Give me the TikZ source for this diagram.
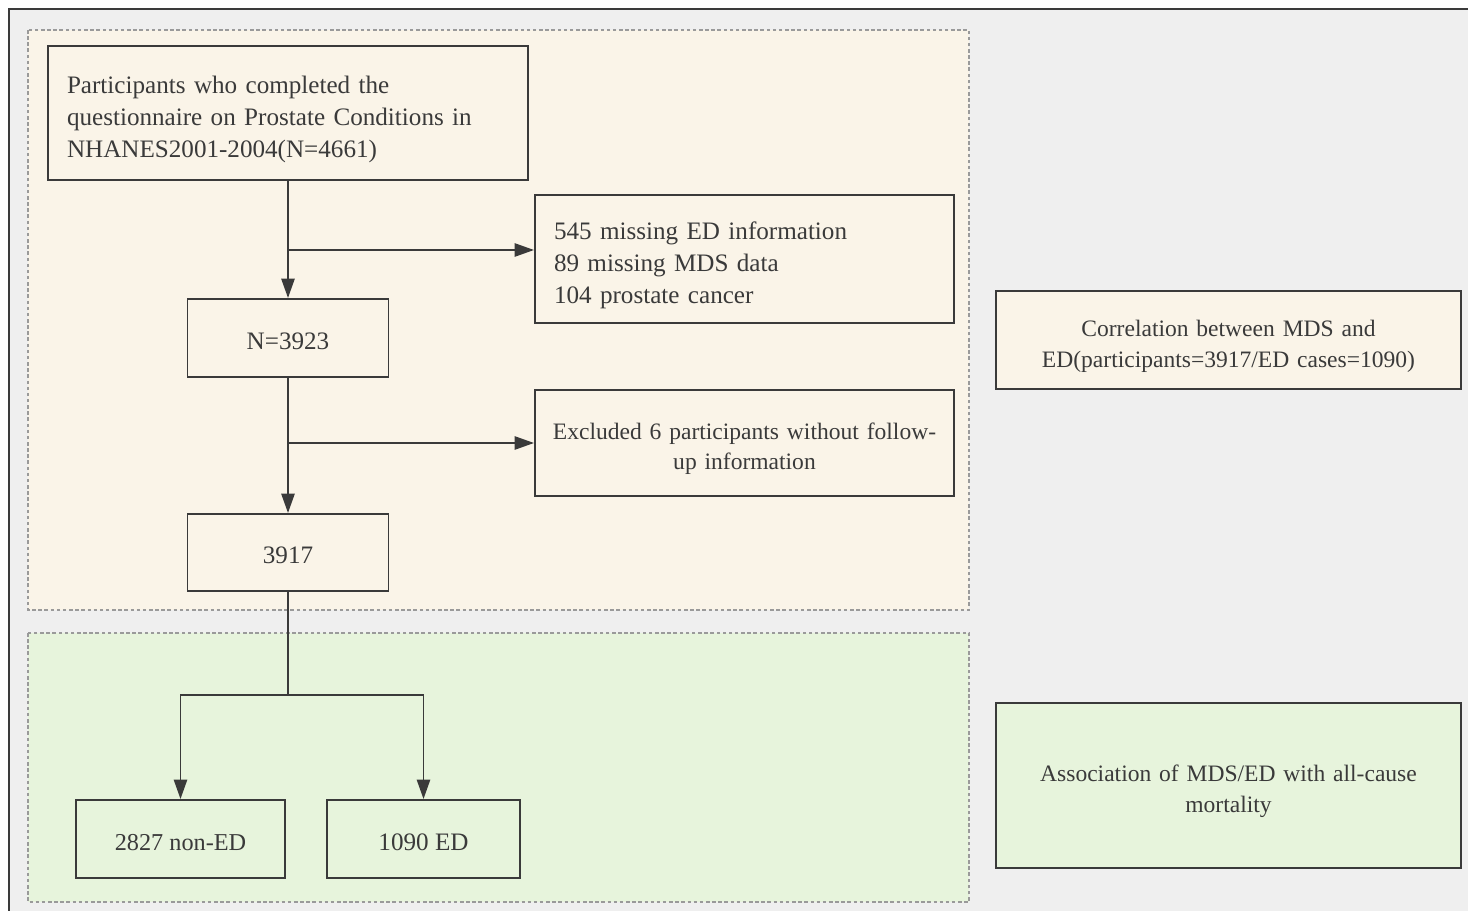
\documentclass[tikz,border=0pt]{standalone}
\usepackage{fontspec}
\setmainfont{Liberation Serif}
\usetikzlibrary{arrows.meta,positioning}
\definecolor{pagegray}{HTML}{EFEFEF}
\definecolor{cream}{HTML}{FAF4E8}
\definecolor{mint}{HTML}{E7F4DC}
\definecolor{inkgray}{HTML}{3A3A3A}
\definecolor{dashgray}{HTML}{9A9A9A}
\tikzset{
  box/.style={rectangle,draw=inkgray,line width=1.1pt,text=inkgray,font=\fontsize{14.3}{18.1}\selectfont,inner sep=0pt},
  side/.style={box,font=\fontsize{13.4}{17.6}\selectfont,text width=440*0.02cm,align=center},
  sink/.style={execute at begin node={\rule{0pt}{#1}}},
  region/.style={draw=dashgray,dashed,dash pattern=on 2pt off 1.5pt,line width=0.6pt},
  flow/.style={draw=inkgray,line width=1.1pt},
  arr/.style={flow,-{Triangle[length=11pt,width=7.5pt]}}
}
\begin{document}
\begin{tikzpicture}[x=0.02cm,y=-0.02cm]
            \useasboundingbox (0,0) rectangle (1468,911);
            \fill[white] (0,0) rectangle (1468,911);
            \fill[pagegray] (9,9) rectangle (1468,911);
            \draw[inkgray,line width=1.6pt] (9,911) -- (9,9) -- (1468,9);

            % shaded regions
            \path[region,fill=cream] (28,30) rectangle (969,610);
            \path[region,fill=mint] (28,633) rectangle (969,902);

            \path (288,113) node[box,fill=cream,minimum width=480*0.02cm,minimum height=134*0.02cm,text width=442*0.02cm,align=left,sink=17pt] (A)
              {Participants who completed the\\questionnaire on Prostate Conditions in\\NHANES2001-2004(N=4661)};
            \path (744.5,259) node[box,fill=cream,minimum width=419*0.02cm,minimum height=128*0.02cm,text width=381*0.02cm,align=left,sink=17pt] (B)
              {545 missing ED information\\89 missing MDS data\\104 prostate cancer};
            \path (288,338) node[box,fill=cream,minimum width=201*0.02cm,minimum height=78*0.02cm,sink=13pt] (C) {N=3923};
            \path (744.5,443) node[box,fill=cream,minimum width=419*0.02cm,minimum height=106*0.02cm,text width=400*0.02cm,align=center,font=\fontsize{13.4}{17}\selectfont,sink=16pt] (D)
              {Excluded 6 participants without follow-\\up information};
            \path (288,552.5) node[box,fill=cream,minimum width=201*0.02cm,minimum height=77*0.02cm,sink=13pt] (E) {3917};
            \path (180.5,839) node[box,fill=mint,minimum width=209*0.02cm,minimum height=78*0.02cm,font=\fontsize{13.8}{17}\selectfont,sink=13.5pt] (F) {2827 non-ED};
            \path (423.5,839) node[box,fill=mint,minimum width=193*0.02cm,minimum height=78*0.02cm,sink=13.5pt] (G) {1090 ED};

            \path (1228.5,340) node[side,fill=cream,minimum width=465*0.02cm,minimum height=98*0.02cm,sink=16pt] (H)
              {Correlation between MDS and\\ED(participants=3917/ED cases=1090)};
            \path (1228.5,785.5) node[side,fill=mint,minimum width=465*0.02cm,minimum height=165*0.02cm,sink=16pt] (I)
              {Association of MDS/ED with all-cause\\mortality};

            \coordinate (b1) at (A.south |- 0,250);
            \coordinate (b2) at (C.south |- 0,443);
            \coordinate (s1) at (E.south |- 0,695);
            \draw[arr] (A.south) -- (C.north);
            \draw[arr] (b1) -- (B.west |- b1);
            \draw[arr] (C.south) -- (E.north);
            \draw[arr] (b2) -- (D.west);
            \draw[flow] (E.south) -- (s1);
            \draw[arr] (s1) -| (F.north);
            \draw[arr] (s1) -| (G.north);
          \end{tikzpicture}
\end{document}
